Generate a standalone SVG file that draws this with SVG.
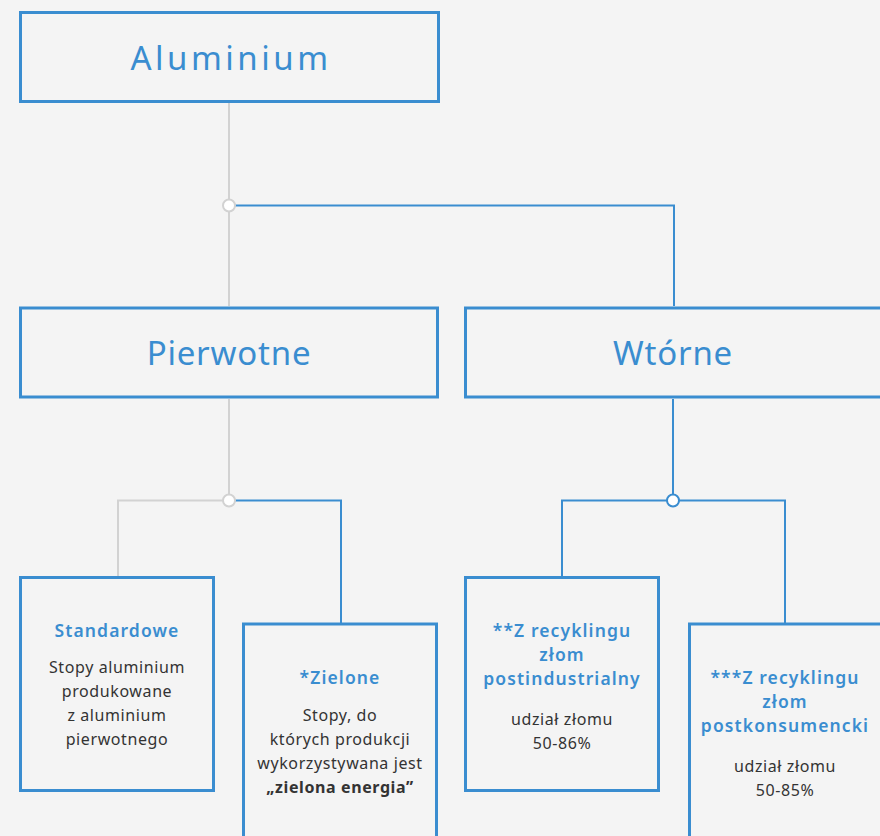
<svg xmlns="http://www.w3.org/2000/svg" width="880" height="836" viewBox="0 0 880 836">
<style>
.box{fill:#f4f4f4;stroke:#3a8dd0;stroke-width:3}
.g{fill:none;stroke:#d2d2d2;stroke-width:2}
.b{fill:none;stroke:#3a8dd0;stroke-width:2}
.big{font-family:"Noto Sans","Open Sans",sans-serif;font-size:33px;fill:#3a8dd0;text-anchor:middle;letter-spacing:0.8px}
.t{font-family:"Noto Sans","Open Sans",sans-serif;font-size:17.5px;font-weight:600;fill:#3a8dd0;text-anchor:middle;letter-spacing:1.1px}
.p{font-family:"Noto Sans","Open Sans",sans-serif;font-size:16px;fill:#333;text-anchor:middle;letter-spacing:0.6px}
.pb{font-weight:700}
</style>
<rect width="880" height="836" fill="#f4f4f4"/>
<g id="connectors">
<path class="g" d="M229 103V306"/>
<path class="b" d="M235 205.5H674V306"/>
<path class="g" d="M229 399V494M223 500.5H118V576"/>
<path class="b" d="M235 500.5H341V623"/>
<path class="b" d="M673 399V494M667 500.5H562V576M679 500.5H785V623"/>
<circle cx="229" cy="205.5" r="6" fill="#fff" stroke="#d2d2d2" stroke-width="2"/>
<circle cx="229" cy="500.5" r="6" fill="#fff" stroke="#d2d2d2" stroke-width="2"/>
<circle cx="673" cy="500.5" r="6" fill="#fff" stroke="#3a8dd0" stroke-width="2"/>
</g>
<g id="aluminium">
<rect class="box" x="20.5" y="12.5" width="418" height="89"/>
<text class="big" x="231" y="70" style="letter-spacing:3.5px">Aluminium</text>
</g>
<g id="pierwotne">
<rect class="box" x="20.5" y="308" width="417" height="89"/>
<text class="big" x="229" y="365">Pierwotne</text>
</g>
<g id="wtorne">
<rect class="box" x="465.5" y="308" width="430" height="89"/>
<text class="big" x="673" y="365">Wtórne</text>
</g>
<g id="standardowe">
<rect class="box" x="20.5" y="577.5" width="193" height="213"/>
<text class="t" x="117" y="637">Standardowe</text>
<text class="p" x="117" y="673">Stopy aluminium</text>
<text class="p" x="117" y="697">produkowane</text>
<text class="p" x="117" y="721">z aluminium</text>
<text class="p" x="117" y="745">pierwotnego</text>
</g>
<g id="zielone">
<rect class="box" x="243.5" y="624" width="193" height="300"/>
<text class="t" x="340" y="684">*Zielone</text>
<text class="p" x="340" y="721">Stopy, do</text>
<text class="p" x="340" y="745">których produkcji</text>
<text class="p" x="340" y="769">wykorzystywana jest</text>
<text class="p pb" x="340" y="793">„zielona energia”</text>
</g>
<g id="postindustrialny">
<rect class="box" x="465.5" y="577.5" width="193" height="213"/>
<text class="t" x="562" y="637">**Z recyklingu</text>
<text class="t" x="562" y="661">złom</text>
<text class="t" x="562" y="685">postindustrialny</text>
<text class="p" x="562" y="725">udział złomu</text>
<text class="p" x="562" y="749">50-86%</text>
</g>
<g id="postkonsumencki">
<rect class="box" x="689.5" y="624" width="250" height="300"/>
<text class="t" x="785" y="684">***Z recyklingu</text>
<text class="t" x="785" y="708">złom</text>
<text class="t" x="785" y="732">postkonsumencki</text>
<text class="p" x="785" y="772">udział złomu</text>
<text class="p" x="785" y="796">50-85%</text>
</g>
</svg>
